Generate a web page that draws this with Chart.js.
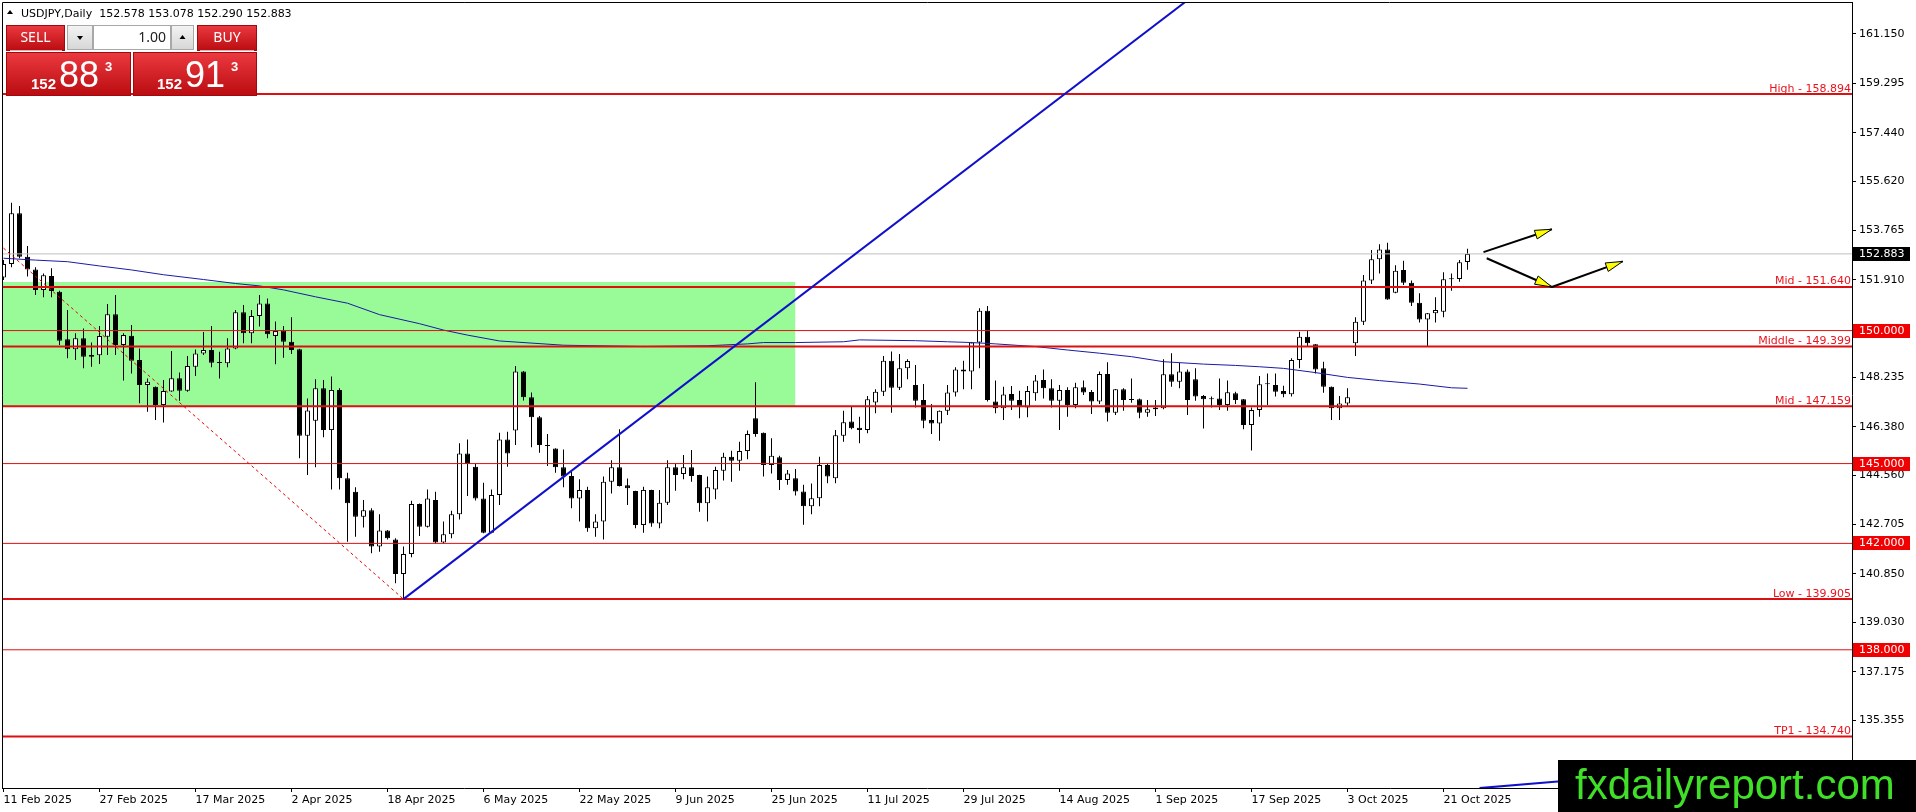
<!DOCTYPE html>
<html>
<head>
<meta charset="utf-8">
<title>USDJPY Daily</title>
<script src="https://cdn.jsdelivr.net/npm/chart.js@4.4.1/dist/chart.umd.min.js"></script>
<style>
html, body { margin: 0; padding: 0; background: #fff; }
canvas { display: block; }
</style>
</head>
<body>
<canvas id="chart" width="1916" height="812"></canvas>
<script>
// daily candles, index 0 = 11 Feb 2025, one per weekday
const opens = [
  152.00,152.50,154.41,152.78,152.30,151.53,152.05,151.46,149.67,149.30,
  149.71,149.08,149.07,149.77,150.61,149.46,149.81,148.89,147.95,147.89,
  147.20,147.71,148.21,147.74,148.64,149.14,149.27,148.78,148.77,149.33,
  150.69,149.90,150.55,151.02,149.80,149.99,149.58,149.30,146.05,146.61,
  147.83,146.26,147.77,144.45,143.94,143.00,143.25,141.88,142.48,142.15,
  140.85,141.60,143.48,142.63,143.63,142.03,142.34,143.10,145.38,144.88,
  143.69,142.40,143.82,145.91,146.24,148.46,147.49,146.74,145.66,145.57,
  144.86,144.53,143.69,144.01,142.57,142.82,144.32,144.86,144.19,143.97,
  142.69,144.01,142.75,143.53,144.86,144.61,144.86,144.57,143.51,144.03,
  144.73,145.26,145.11,145.47,146.70,146.16,144.95,145.24,144.38,144.45,
  143.95,143.40,143.70,144.95,144.45,146.05,146.58,146.35,146.26,147.30,
  147.70,148.87,147.85,148.58,147.95,147.39,146.64,146.51,146.99,147.67,
  148.54,148.46,149.55,150.75,147.33,147.08,147.62,147.39,147.11,147.64,
  148.14,147.83,147.36,147.77,147.20,147.87,147.69,147.33,148.37,146.91,
  147.79,147.39,147.42,146.91,147.04,147.08,148.36,148.08,148.46,148.17,
  147.54,147.45,147.45,147.20,147.64,147.42,146.45,147.01,147.98,147.95,
  147.73,147.61,148.89,149.77,149.49,148.58,147.89,147.08,147.26,149.52,
  150.33,151.88,152.68,153.05,151.42,152.28,151.80,151.05,150.42,150.65,
  150.71,151.93,151.94,152.578
];
const highs = [
  152.65,154.81,154.68,153.18,152.38,152.15,152.34,151.50,150.77,149.90,
  150.08,149.55,150.17,151.00,151.34,149.90,150.21,149.33,148.20,147.90,
  148.14,149.23,148.42,149.04,149.29,149.95,150.17,149.20,149.71,150.77,
  150.96,150.77,151.34,151.21,150.34,150.17,150.50,149.32,147.45,148.17,
  148.14,148.27,147.83,144.66,144.11,143.63,143.32,143.10,142.50,142.19,
  141.88,143.60,143.50,144.03,143.94,142.82,143.23,145.76,145.91,145.01,
  144.28,144.03,146.16,146.20,148.67,148.48,147.67,146.79,146.11,145.58,
  145.53,144.69,144.41,144.13,143.10,144.51,145.13,146.29,144.44,143.98,
  144.13,144.02,144.01,145.13,145.01,145.32,145.51,144.58,144.51,144.88,
  145.41,145.48,145.82,146.24,148.06,146.17,145.95,145.29,144.76,144.80,
  144.20,144.25,145.26,145.00,146.26,146.99,147.14,146.76,147.54,147.79,
  149.04,149.21,149.12,148.92,148.71,147.99,147.24,147.00,147.95,148.62,
  148.87,149.56,150.84,150.92,148.12,147.89,147.92,147.74,147.92,148.33,
  148.54,148.17,147.95,147.87,148.04,148.12,147.77,148.46,148.81,147.80,
  147.83,148.20,147.45,147.39,147.39,148.92,149.15,148.79,148.54,148.58,
  147.58,147.52,148.20,148.12,147.70,147.43,147.11,148.29,148.39,148.39,
  147.93,148.96,149.96,150.02,149.50,148.83,147.90,147.54,147.83,150.50,
  152.09,153.03,153.25,153.30,152.46,152.63,151.88,151.40,150.66,151.25,
  152.19,152.15,152.65,153.078
];
const lows = [
  151.90,152.38,152.72,152.03,151.34,151.25,151.25,149.46,148.96,148.89,
  148.58,148.64,148.74,149.08,149.08,148.12,148.39,147.27,146.95,146.64,
  146.54,147.70,147.36,147.70,148.29,149.08,148.62,148.20,148.62,149.30,
  149.52,149.52,150.15,149.71,148.73,148.98,149.12,145.20,144.57,144.86,
  145.99,144.03,144.03,142.06,142.25,142.60,141.63,141.69,142.15,140.50,
  139.905,141.48,142.28,142.60,142.00,142.00,142.19,142.90,143.78,143.61,
  142.38,142.38,143.44,144.88,145.70,147.37,145.61,145.41,144.91,144.66,
  144.11,143.32,142.82,142.44,142.25,142.15,143.88,144.14,143.44,142.57,
  142.40,142.63,142.57,143.44,143.98,144.41,144.32,143.19,142.82,143.66,
  144.36,144.32,144.73,145.16,146.01,144.51,144.63,144.01,144.20,143.80,
  142.70,143.10,143.40,144.26,144.26,145.82,146.29,145.76,146.14,146.89,
  147.54,146.91,147.77,148.17,147.11,146.33,146.11,145.86,146.83,147.52,
  147.79,147.79,148.58,147.33,146.89,146.64,147.01,146.70,146.74,147.36,
  147.45,147.11,146.26,146.76,147.08,147.58,146.86,147.24,146.58,146.83,
  146.99,147.29,146.70,146.76,146.79,147.04,147.89,147.83,146.83,147.36,
  146.32,147.11,147.01,146.99,147.24,146.29,145.49,146.76,147.20,147.52,
  147.49,147.52,148.58,149.42,148.39,147.66,146.64,146.64,147.14,149.04,
  150.21,151.75,152.15,151.16,151.40,151.71,150.92,150.30,149.42,150.30,
  150.50,151.50,151.84,152.290
];
const closes = [
  152.50,154.41,152.78,152.30,151.53,152.08,151.49,149.62,149.30,149.71,
  149.02,149.02,149.80,150.61,149.46,149.83,148.87,147.95,148.08,147.20,
  147.73,148.21,147.74,148.67,149.14,149.27,148.79,148.80,149.33,150.69,
  149.90,150.55,151.02,149.86,149.98,149.58,149.27,146.05,147.00,147.83,
  146.26,147.77,144.45,143.51,143.00,143.25,141.88,142.48,142.19,140.85,
  141.60,143.48,142.63,143.69,142.03,142.34,143.10,145.38,144.98,143.69,
  142.40,143.82,145.91,145.38,148.46,147.49,146.74,145.70,145.68,144.86,
  144.51,143.69,144.01,142.57,142.82,144.32,144.86,144.16,144.07,142.69,
  144.01,142.75,143.53,144.86,144.57,144.86,144.53,143.51,144.11,144.76,
  145.26,145.11,145.47,146.11,146.11,144.95,145.29,144.38,144.63,143.95,
  143.40,143.70,144.95,144.51,146.07,146.55,146.33,146.26,147.42,147.70,
  148.87,147.85,148.58,148.86,147.36,146.61,146.51,146.99,147.67,148.54,
  148.46,149.55,150.75,147.39,147.08,147.60,147.36,147.14,147.73,148.12,
  147.83,147.36,147.77,147.20,147.87,147.67,147.33,148.37,146.91,147.79,
  147.39,147.40,146.91,147.04,147.11,148.36,148.08,148.46,147.39,147.52,
  147.42,147.42,147.20,147.68,147.39,146.45,147.01,147.98,147.99,147.70,
  147.61,148.89,149.77,149.52,148.54,147.89,147.08,147.26,147.49,150.33,
  151.88,152.68,153.05,151.17,152.25,151.80,151.05,150.42,150.65,150.77,
  151.93,151.95,152.57,152.883
];

const dateTickIdx = [0, 12, 24, 36, 48, 60, 72, 84, 96, 108, 120, 132, 144, 156, 168, 180];
const dateTickText = ['11 Feb 2025', '27 Feb 2025', '17 Mar 2025', '2 Apr 2025', '18 Apr 2025',
  '6 May 2025', '22 May 2025', '9 Jun 2025', '25 Jun 2025', '11 Jul 2025', '29 Jul 2025',
  '14 Aug 2025', '1 Sep 2025', '17 Sep 2025', '3 Oct 2025', '21 Oct 2025'];
const priceTicks = [161.150, 159.295, 157.440, 155.620, 153.765, 151.910, 148.235, 146.380,
  144.560, 142.705, 140.850, 139.030, 137.175, 135.355, 133.535];

const levelValues = [158.894, 151.640, 149.399, 147.159, 139.905, 134.740];
const levelNames = ['High', 'Mid', 'Middle', 'Mid', 'Low', 'TP1'];
const roundLevels = [150, 145, 142, 138];
const lastPrice = 152.883;
const headerText = ['USDJPY,Daily', '152.578', '153.078', '152.290', '152.883'];

// moving average, read at a set of bar positions
const maIdx = [0, 4, 8, 12, 16, 20, 25, 29, 32, 35, 39, 43, 47, 52, 55, 58, 62, 70, 80, 88,
  93, 95, 99, 105, 107, 114, 118, 121, 124, 129, 133, 137, 141, 145, 150, 154, 157, 160, 164, 168,
  172, 177, 181, 183];
const maVal = [152.72, 152.65, 152.59, 152.43, 152.28, 152.10, 151.92, 151.77, 151.68, 151.53,
  151.27, 151.03, 150.60, 150.26, 150.02, 149.83, 149.61, 149.45, 149.40, 149.43,
  149.50, 149.55, 149.55, 149.58, 149.65, 149.62, 149.58, 149.55, 149.50, 149.40,
  149.27, 149.15, 149.02, 148.83, 148.74, 148.69, 148.64, 148.58, 148.42, 148.24,
  148.12, 147.99, 147.85, 147.83];

const zoneEnd = 99, zoneTop = 151.83, zoneBottom = 147.159;
const trendX = [50, 148], trendY = [139.905, 162.42];
const trend2X = [184.5, 215], trend2Y = [132.80, 133.57];
const dotX = [0, 50], dotY = [153.10, 139.905];
const arrowFrom = [[185, 152.95], [185.4, 152.72], [193.55, 151.64]];
const arrowTo = [[193.55, 153.81], [193.55, 151.64], [202.4, 152.60]];

const FONT = '"DejaVu Sans"';
Chart.defaults.font.family = FONT;
Chart.defaults.font.size = 11;

function seg(xs, ys) {
  return xs.map((v, i) => ({x: v, y: ys[i]}));
}
function flat(v) {
  return [{x: -2, y: v}, {x: 240, y: v}];
}
const lineBase = {type: 'line', pointRadius: 0, fill: false, tension: 0, clip: 0};

const datasets = [
  Object.assign({}, lineBase, {data: [{x: -2, y: zoneTop}, {x: zoneEnd, y: zoneTop}],
    borderWidth: 0, borderColor: 'rgba(0,0,0,0)', backgroundColor: '#98fb98',
    fill: {value: zoneBottom}, order: 10}),
  {type: 'bar', data: highs.map((h, i) => ({x: i, y: [lows[i], h]})),
    backgroundColor: '#000', borderWidth: 0, barThickness: 1, grouped: false,
    inflateAmount: 0, order: 8},
  {type: 'bar', data: opens.map((o, i) => ({x: i, y: [o, closes[i]]})),
    backgroundColor: c => {
      const i = c.dataIndex;
      return (closes[i] - opens[i] > 0.035) ? '#fff' : '#000';
    },
    borderColor: '#000', borderWidth: 1, borderSkipped: false, barThickness: 5,
    grouped: false, minBarLength: 1, inflateAmount: 0, order: 7},
  Object.assign({}, lineBase, {data: seg(maIdx, maVal), borderColor: '#1a1aa6', borderWidth: 1, order: 6}),
  Object.assign({}, lineBase, {data: flat(lastPrice), borderColor: '#c0c0c0', borderWidth: 1, order: 5}),
];
roundLevels.forEach(v => {
  datasets.push(Object.assign({}, lineBase, {data: flat(v), borderColor: '#e01010', borderWidth: 1, order: 4}));
});
levelValues.forEach(v => {
  datasets.push(Object.assign({}, lineBase, {data: flat(v), borderColor: '#dc1010', borderWidth: 2, order: 4}));
});
datasets.push(Object.assign({}, lineBase, {data: seg(dotX, dotY), borderColor: '#e80000', borderWidth: 1, borderDash: [3, 3], order: 3}));
datasets.push(Object.assign({}, lineBase, {data: seg(trendX, trendY), borderColor: '#1010cc', borderWidth: 2, order: 2}));
datasets.push(Object.assign({}, lineBase, {data: seg(trend2X, trend2Y), borderColor: '#1010cc', borderWidth: 2, order: 2}));
arrowFrom.forEach((p, i) => {
  datasets.push(Object.assign({}, lineBase, {data: [{x: p[0], y: p[1]}, {x: arrowTo[i][0], y: arrowTo[i][1]}],
    borderColor: '#000', borderWidth: 2, order: 1}));
});

function redBlock(ctx, x, y, w, h) {
  const g = ctx.createLinearGradient(0, y, 0, y + h);
  g.addColorStop(0, '#ec3b40');
  g.addColorStop(1, '#b90b10');
  ctx.fillStyle = g;
  ctx.fillRect(x, y, w, h);
  ctx.strokeStyle = '#a00a0e';
  ctx.lineWidth = 1;
  ctx.strokeRect(x + 0.5, y + 0.5, w - 1, h - 1);
}
function grayBlock(ctx, x, y, w, h, top, bottom) {
  const g = ctx.createLinearGradient(0, y, 0, y + h);
  g.addColorStop(0, top);
  g.addColorStop(1, bottom);
  ctx.fillStyle = g;
  ctx.fillRect(x, y, w, h);
  ctx.strokeStyle = '#a8a8a8';
  ctx.lineWidth = 1;
  ctx.strokeRect(x + 0.5, y + 0.5, w - 1, h - 1);
}
function tri(ctx, cx, cy, up) {
  ctx.beginPath();
  if (up) { ctx.moveTo(cx - 3, cy + 2); ctx.lineTo(cx + 3, cy + 2); ctx.lineTo(cx, cy - 2); }
  else { ctx.moveTo(cx - 3, cy - 2); ctx.lineTo(cx + 3, cy - 2); ctx.lineTo(cx, cy + 2); }
  ctx.closePath();
  ctx.fill();
}

const overlay = {
  id: 'overlay',
  afterDatasetsDraw(chart) {
    const {ctx, chartArea: a, scales: {x, y}} = chart;
    ctx.save();
    ctx.font = '11px ' + FONT;
    ctx.fillStyle = '#e8141e';
    ctx.textAlign = 'right';
    ctx.textBaseline = 'alphabetic';
    levelValues.forEach((v, i) => {
      ctx.fillText(levelNames[i] + ' - ' + v.toFixed(3), a.right - 1, y.getPixelForValue(v) - 2.5);
    });
    arrowTo.forEach((p, i) => {
      const x1 = x.getPixelForValue(arrowFrom[i][0]), y1 = y.getPixelForValue(arrowFrom[i][1]);
      const x2 = x.getPixelForValue(p[0]), y2 = y.getPixelForValue(p[1]);
      const ang = Math.atan2(y2 - y1, x2 - x1);
      const len = 17, half = 4.5;
      const bx = x2 - len * Math.cos(ang), by = y2 - len * Math.sin(ang);
      ctx.beginPath();
      ctx.moveTo(x2, y2);
      ctx.lineTo(bx + half * Math.sin(ang), by - half * Math.cos(ang));
      ctx.lineTo(bx - half * Math.sin(ang), by + half * Math.cos(ang));
      ctx.closePath();
      ctx.fillStyle = '#ffff00';
      ctx.fill();
      ctx.strokeStyle = '#000';
      ctx.lineWidth = 1;
      ctx.stroke();
    });
    ctx.restore();
  },
  afterDraw(chart) {
    const {ctx, chartArea: a, scales: {y}} = chart;
    ctx.save();
    // frame
    ctx.strokeStyle = '#000';
    ctx.lineWidth = 1;
    ctx.beginPath();
    ctx.moveTo(a.left + 0.5, a.bottom);
    ctx.lineTo(a.left + 0.5, a.top + 0.5);
    ctx.lineTo(a.right, a.top + 0.5);
    ctx.stroke();

    // price boxes on the axis
    ctx.font = '11px ' + FONT;
    ctx.textAlign = 'left';
    ctx.textBaseline = 'middle';
    const box = (v, bg) => {
      const py = Math.round(y.getPixelForValue(v));
      ctx.fillStyle = bg;
      ctx.fillRect(a.right + 1, py - 7, 57, 14);
      ctx.fillStyle = '#fff';
      ctx.fillText(v.toFixed(3), a.right + 7, py + 0.5);
    };
    roundLevels.forEach(v => box(v, '#f00000'));
    box(lastPrice, '#000');

    // header
    ctx.fillStyle = '#000';
    tri(ctx, 10, 12, true);
    ctx.textBaseline = 'alphabetic';
    ctx.fillText(headerText[0] + '  ' + headerText.slice(1).join(' '), 21, 17);

    // one click trading panel
    redBlock(ctx, 6, 25, 59, 26);
    redBlock(ctx, 197, 25, 60, 26);
    redBlock(ctx, 6, 52, 125, 44);
    redBlock(ctx, 133, 52, 124, 44);
    ctx.fillStyle = 'rgba(255,210,210,0.8)';
    ctx.fillRect(10, 50, 52, 1);
    ctx.fillRect(200, 50, 54, 1);
    grayBlock(ctx, 67, 25, 26, 25, '#f4f4f4', '#d6d6d6');
    grayBlock(ctx, 93, 25, 78, 25, '#ffffff', '#ffffff');
    grayBlock(ctx, 171, 25, 23, 25, '#f4f4f4', '#d6d6d6');
    ctx.fillStyle = '#000';
    tri(ctx, 80, 38, false);
    tri(ctx, 182.5, 37, true);
    ctx.font = '14px "Noto Sans"';
    ctx.textBaseline = 'middle';
    ctx.textAlign = 'right';
    ctx.fillStyle = '#222';
    ctx.fillText('1.00', 166, 38);
    ctx.textAlign = 'center';
    ctx.fillStyle = '#fff';
    ctx.fillText('SELL', 35.5, 38);
    ctx.fillText('BUY', 227, 38);
    ctx.textAlign = 'left';
    ctx.textBaseline = 'alphabetic';
    const price = (x0, big) => {
      ctx.font = 'bold 15px "Liberation Sans"';
      ctx.fillText('152', x0, 89);
      ctx.font = '36px "Liberation Sans"';
      ctx.fillText(big, x0 + 28, 87);
      ctx.font = 'bold 13px "Liberation Sans"';
      ctx.fillText('3', x0 + 74, 71);
    };
    price(31, '88');
    price(157, '91');

    // logo
    ctx.fillStyle = '#000';
    ctx.fillRect(1558, 760, 358, 52);
    ctx.fillStyle = '#40e028';
    ctx.font = '42px "Liberation Sans"';
    ctx.fillText('fxdailyreport.com', 1575, 799);
    ctx.restore();
  }
};

const axisGrid = {display: true, drawOnChartArea: false, drawTicks: true, tickLength: 4,
  color: '#000', tickColor: '#000', offset: false};

new Chart(document.getElementById('chart'), {
  type: 'line',
  data: {datasets: datasets},
  options: {
    responsive: false,
    animation: false,
    devicePixelRatio: 1,
    layout: {padding: {left: 2, top: 2, right: 0, bottom: 0}},
    plugins: {legend: {display: false}, tooltip: {enabled: false}},
    scales: {
      x: {
        type: 'linear', min: -0.1875, max: 231.0625, offset: false,
        grid: axisGrid,
        border: {display: true, color: '#000', width: 1},
        ticks: {color: '#000', align: 'start', maxRotation: 0, autoSkip: false, padding: 2,
          callback: (v, i) => dateTickText[i]},
        afterBuildTicks: s => { s.ticks = dateTickIdx.map(v => ({value: v})); },
        afterFit: s => { s.height = 24; s.paddingLeft = 0; s.paddingRight = 0; }
      },
      y: {
        type: 'linear', position: 'right', min: 132.804, max: 162.353,
        grid: axisGrid,
        border: {display: true, color: '#000', width: 1},
        ticks: {color: '#000', padding: 3, autoSkip: false, callback: v => v.toFixed(3)},
        afterBuildTicks: s => { s.ticks = priceTicks.map(v => ({value: v})); },
        afterFit: s => { s.width = 64; s.paddingTop = 0; s.paddingBottom = 0; }
      }
    }
  },
  plugins: [overlay]
});
</script>
</body>
</html>
